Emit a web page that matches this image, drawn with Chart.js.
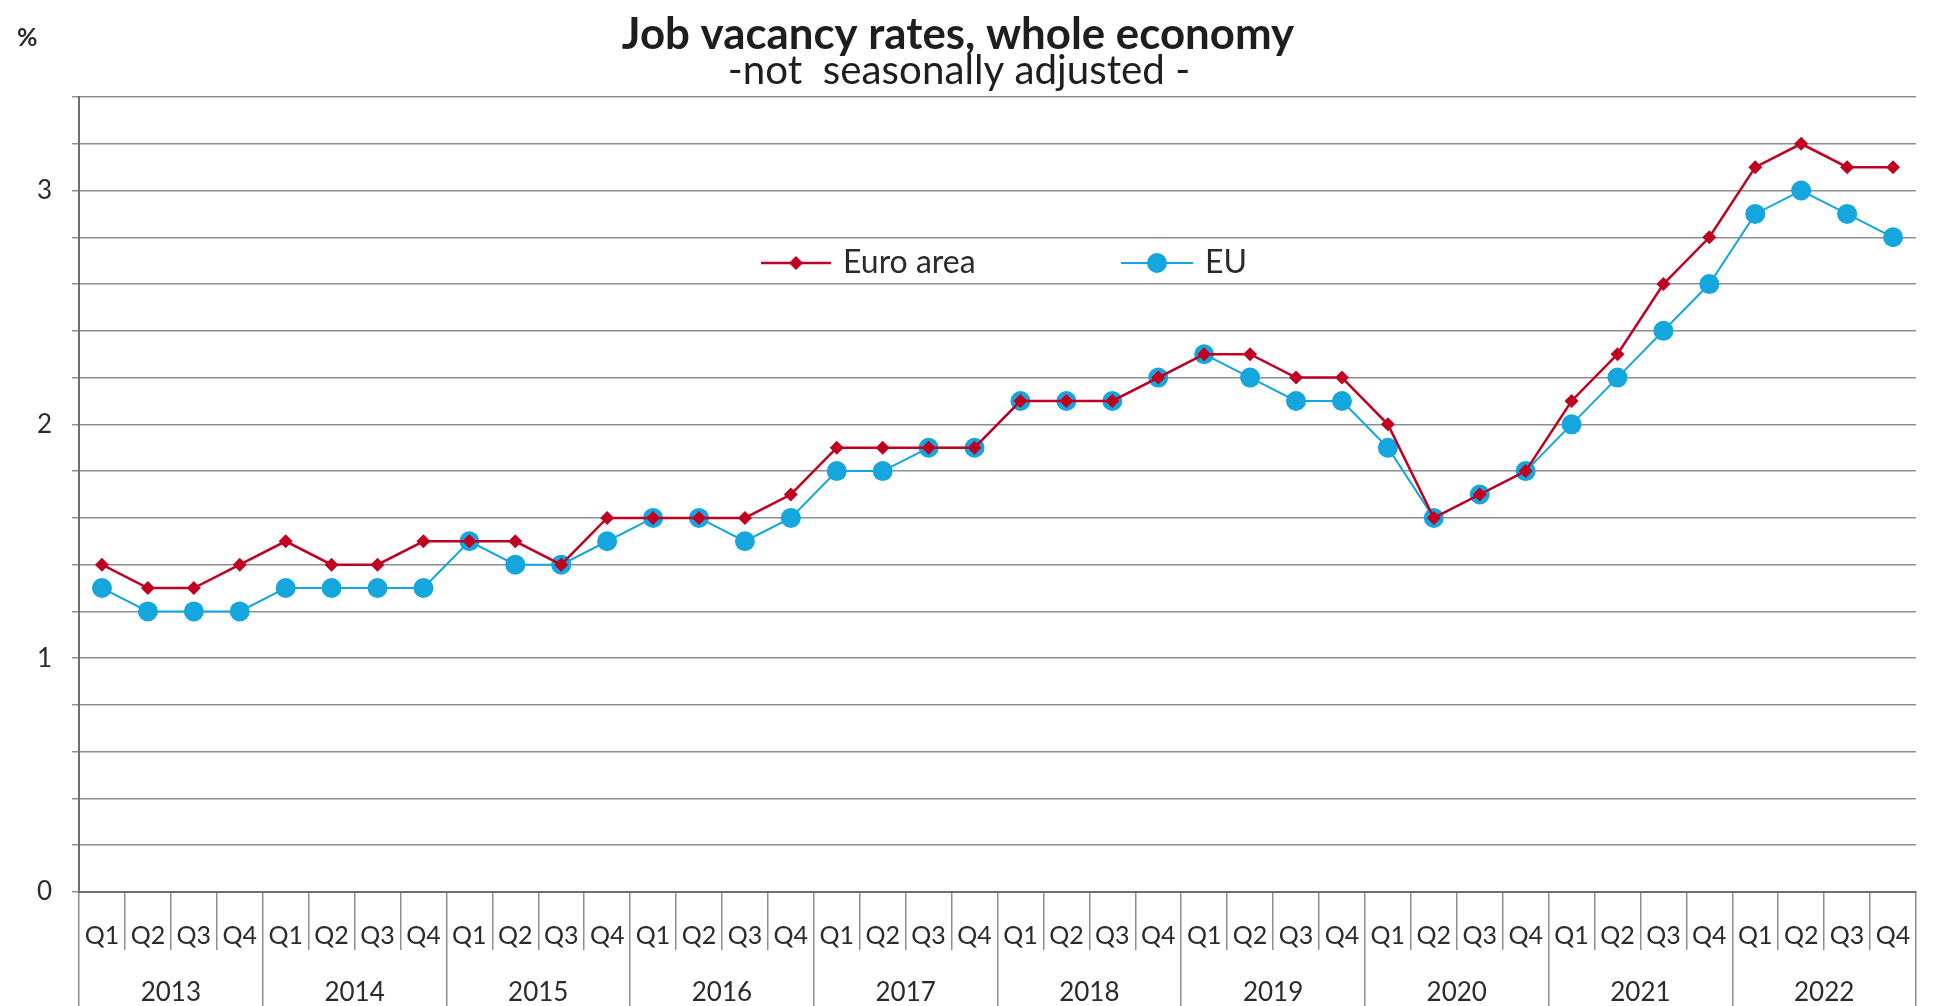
<!DOCTYPE html>
<html>
<head>
<meta charset="utf-8">
<title>Job vacancy rates, whole economy</title>
<script src="https://cdn.jsdelivr.net/npm/chart.js@4.4.0/dist/chart.umd.min.js"></script>
<style>
    html, body { margin: 0; padding: 0; background: #ffffff; }
    #wrap { width: 1949px; height: 1006px; position: relative; }
</style>
</head>
<body>
<div id="wrap"><canvas id="vacancy-chart"></canvas></div>
<script>
// data
const years = ['2013', '2014', '2015', '2016', '2017', '2018', '2019', '2020', '2021', '2022'];
const quarters = ['Q1', 'Q2', 'Q3', 'Q4'];
const euroArea = [
    1.4, 1.3, 1.3, 1.4,
    1.5, 1.4, 1.4, 1.5,
    1.5, 1.5, 1.4, 1.6,
    1.6, 1.6, 1.6, 1.7,
    1.9, 1.9, 1.9, 1.9,
    2.1, 2.1, 2.1, 2.2,
    2.3, 2.3, 2.2, 2.2,
    2.0, 1.6, 1.7, 1.8,
    2.1, 2.3, 2.6, 2.8,
    3.1, 3.2, 3.1, 3.1
];
const eu = [
    1.3, 1.2, 1.2, 1.2,
    1.3, 1.3, 1.3, 1.3,
    1.5, 1.4, 1.4, 1.5,
    1.6, 1.6, 1.5, 1.6,
    1.8, 1.8, 1.9, 1.9,
    2.1, 2.1, 2.1, 2.2,
    2.3, 2.2, 2.1, 2.1,
    1.9, 1.6, 1.7, 1.8,
    2.0, 2.2, 2.4, 2.6,
    2.9, 3.0, 2.9, 2.8
];
const yTickLabels = [0, 1, 2, 3];
const quarterLabels = years.flatMap(() => quarters);

const titleText = 'Job vacancy rates, whole economy';
const subtitleText = '-not  seasonally adjusted -';
const unitText = '%';

const RED = '#C00020';
const BLUE = '#14A6DC';
const GRID = '#8e8e8e';
const AXIS = '#6e6e6e';
const TEXT = '#2b2b2b';
const FONT = 'Lato, "Open Sans", sans-serif';

// pick a font size so the text is as wide as in the picture
function fitFont(ctx, text, weight, width) {
    ctx.font = weight + ' 40px ' + FONT;
    const size = 40 * width / ctx.measureText(text).width;
    return weight + ' ' + size.toFixed(1) + 'px ' + FONT;
}

function drawMarker(ctx, style, x, y, r) {
    ctx.beginPath();
    if (style === 'rectRot') {
        ctx.moveTo(x - r, y);
        ctx.lineTo(x, y - r);
        ctx.lineTo(x + r, y);
        ctx.lineTo(x, y + r);
        ctx.closePath();
    } else {
        ctx.arc(x, y, r, 0, Math.PI * 2);
    }
    ctx.fill();
}

const textPlugin = {
    id: 'chartText',
    afterDraw(chart) {
        const ctx = chart.ctx;
        ctx.save();
        ctx.fillStyle = '#1e1e1e';
        ctx.textBaseline = 'middle';
        ctx.textAlign = 'center';
        ctx.font = fitFont(ctx, titleText, 'bold', 672);
        ctx.fillText(titleText, 958, 35);
        ctx.font = fitFont(ctx, subtitleText, 'normal', 462);
        ctx.fillText(subtitleText, 959, 71);

        ctx.textAlign = 'left';
        ctx.font = 'bold 25px ' + FONT;
        ctx.fillStyle = TEXT;
        ctx.fillText(unitText, 17, 38);

        // legend inside the plot
        const legendY = 263;
        const items = [{ x: 761, w: 70 }, { x: 1121, w: 72 }];
        chart.data.datasets.forEach((ds, i) => {
            const it = items[i];
            ctx.strokeStyle = ds.borderColor;
            ctx.lineWidth = ds.borderWidth;
            ctx.beginPath();
            ctx.moveTo(it.x, legendY);
            ctx.lineTo(it.x + it.w, legendY);
            ctx.stroke();
            ctx.fillStyle = ds.pointBackgroundColor;
            drawMarker(ctx, ds.pointStyle, it.x + it.w / 2, legendY, ds.pointRadius);
            ctx.fillStyle = TEXT;
            ctx.font = '32px ' + FONT;
            ctx.fillText(ds.label, it.x + it.w + 12, legendY);
        });
        ctx.restore();
    }
};

const ctx = document.getElementById('vacancy-chart');
new Chart(ctx, {
    type: 'line',
    data: {
        labels: quarterLabels,
        datasets: [{
            label: 'Euro area',
            data: euroArea,
            borderColor: RED,
            backgroundColor: RED,
            borderWidth: 2.5,
            pointStyle: 'rectRot',
            pointRadius: 7,
            pointBackgroundColor: RED,
            pointBorderWidth: 0,
            tension: 0
        }, {
            label: 'EU',
            data: eu,
            borderColor: BLUE,
            backgroundColor: BLUE,
            borderWidth: 2,
            pointStyle: 'circle',
            pointRadius: 10,
            pointBackgroundColor: BLUE,
            pointBorderWidth: 0,
            tension: 0
        }]
    },
    options: {
        responsive: true,
        maintainAspectRatio: false,
        animation: false,
        layout: { padding: { top: 97, right: 33, bottom: 0, left: 0 } },
        plugins: {
            legend: { display: false },
            tooltip: { enabled: false }
        },
        scales: {
            x: {
                type: 'category',
                position: 'bottom',
                weight: 1,
                offset: true,
                grid: { drawOnChartArea: false, offset: true, tickLength: 58, color: GRID, lineWidth: 1.5 },
                border: { display: true, color: AXIS, width: 2 },
                ticks: { autoSkip: false, maxRotation: 0, padding: -29, color: TEXT, font: { family: FONT, size: 25 } },
                afterFit: (s) => { s.height = 58; }
            },
            year: {
                type: 'category',
                position: 'bottom',
                weight: 2,
                labels: years,
                offset: true,
                grid: { drawOnChartArea: false, offset: true, tickLength: 56, color: GRID, lineWidth: 1.5 },
                border: { display: false },
                ticks: { autoSkip: false, maxRotation: 0, padding: -29, color: TEXT, font: { family: FONT, size: 26 } },
                afterFit: (s) => { s.height = 56; }
            },
            y: {
                min: 0,
                max: 3.4,
                grid: { color: GRID, lineWidth: 1.5, tickLength: 7 },
                border: { display: true, color: AXIS, width: 2 },
                ticks: {
                    stepSize: 0.2,
                    padding: 20,
                    color: TEXT,
                    font: { family: FONT, size: 26 },
                    callback: (v) => {
                        const r = Math.round(v);
                        return Math.abs(v - r) < 1e-6 && yTickLabels.includes(r) ? String(r) : '';
                    }
                },
                afterFit: (s) => { s.width = 79; }
            }
        }
    },
    plugins: [textPlugin]
});
</script>
</body>
</html>
